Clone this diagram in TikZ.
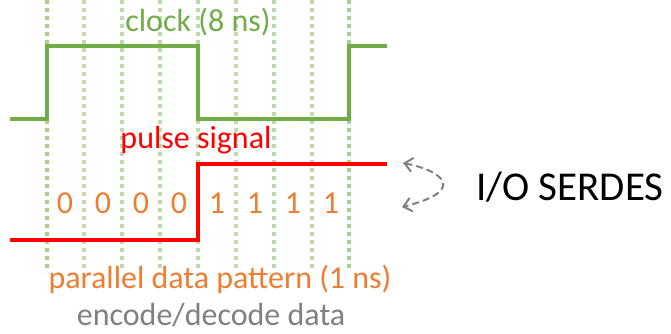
\documentclass[tikz,border=0pt]{standalone}
\usepackage{fontspec}
\setmainfont{Carlito}
\usetikzlibrary{arrows.meta}
\definecolor{clk}{HTML}{70AD47}
\definecolor{gridA}{HTML}{A9D18E}
\definecolor{gridB}{HTML}{BEDCAA}
\definecolor{dat}{HTML}{ED7D31}
\definecolor{pul}{HTML}{FF0000}
\definecolor{gry}{HTML}{808080}
\tikzset{
  gridline/.style={line width=3.6pt, dash pattern=on 4pt off 4pt},
  lbl/.style={inner sep=0pt, font=\fontsize{32}{36}\selectfont},
  digit/.style={lbl, text=dat},
  wave/.style={line width=3.2pt, line join=miter},
}
\begin{document}
\begin{tikzpicture}[x=1pt,y=-1pt]
\useasboundingbox (0,0) rectangle (671,333);
% grid
\foreach \x in {84,122,160,198,236,274,312}
  \draw[gridline, gridB] (\x,0) -- (\x,272);
\foreach \x in {47,349}
  \draw[gridline, gridA] (\x,0) -- (\x,272);
% clock
\coordinate (c0) at (10,119);
\coordinate (c1) at (387,46);
\draw[wave, clk] (c0) -- (47,119) -- (47,46) -- (198,46) -- (198,119) -- (349,119) -- (349,46) -- (c1);
\node[lbl, text=clk] (clocklbl) at (198,22) {clock (8 ns)};
% pulse
\coordinate (p0) at (10,240);
\coordinate (p1) at (387,164);
\draw[wave, pul] (p0) -- (198,240) -- (198,164) -- (p1);
\node[lbl, text=pul] (pulselbl) at (196,140) {pulse signal};
% digits
\node[digit] (d1) at (65,203) {0};
\node[digit] (d2) at (103,203) {0};
\node[digit] (d3) at (141,203) {0};
\node[digit] (d4) at (179,203) {0};
\node[digit] (d5) at (217,203) {1};
\node[digit] (d6) at (255,203) {1};
\node[digit] (d7) at (293,203) {1};
\node[digit] (d8) at (331,203) {1};
\node[lbl, text=dat] (parlbl) at (220,279) {parallel data pattern (1 ns)};
\node[lbl, text=gry] (enclbl) at (211,315) {encode/decode data};
% SERDES
\node[inner sep=0pt, font=\fontsize{41}{48}\selectfont] (serdes) at (570,187) {I/O SERDES};
\coordinate (atop) at (403,163);
\coordinate (abot) at (402,207);
\draw[gry, line width=2pt, dash pattern=on 7pt off 4pt, {Straight Barb[length=8pt,width=14pt]}-{Straight Barb[length=8pt,width=14pt]}]
  (atop) .. controls (440,170) and (470,190) .. (abot);
\end{tikzpicture}
\end{document}
